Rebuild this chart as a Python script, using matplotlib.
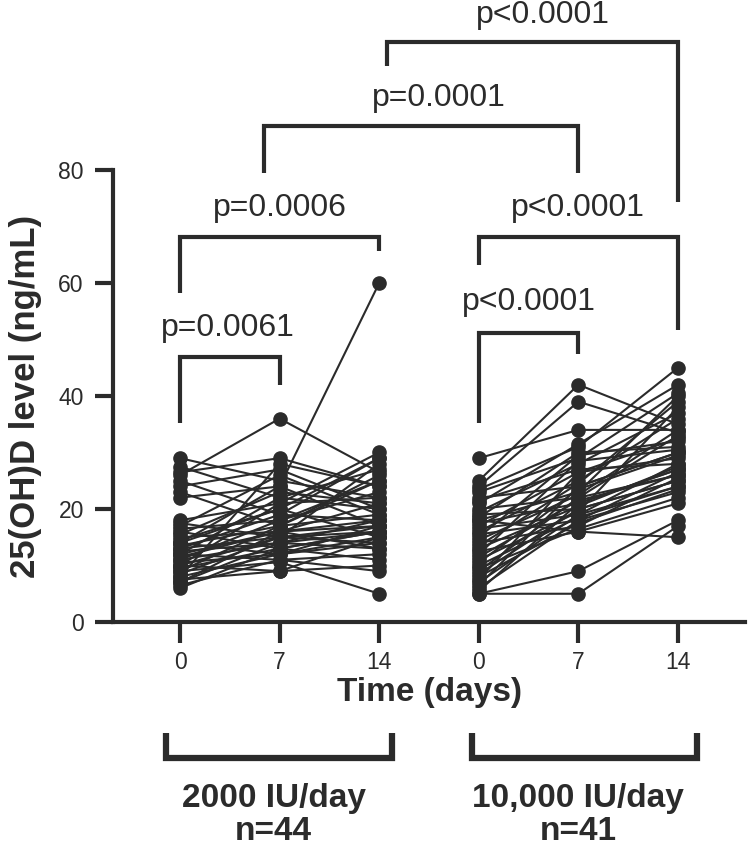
import matplotlib
matplotlib.use("Agg")
import matplotlib.pyplot as plt

plt.rcParams['font.family'] = ['Liberation Sans', 'DejaVu Sans']

INK = '#2b2b2b'

# time points (days) and group labels
days = [0, 7, 14]
groups = ['2000 IU/day', '10,000 IU/day']
group_n = ['n=44', 'n=41']

# 2000 IU/day, one entry per subject (ng/mL)
g1_day0 = [29, 27.5, 26.5, 26, 25, 24, 23, 22, 18, 17.5, 17, 16.5, 16, 15.5, 15,
           14.5, 14, 14, 13.5, 13, 13, 12.5, 12, 12, 11.5, 11, 11, 10.5, 10, 10,
           9.5, 9, 9, 8.5, 8, 8, 7.5, 7, 7, 6.5, 6, 14, 12, 10]
g1_day7 = [25, 22, 29, 36, 19, 27, 17, 24, 21, 15, 26, 18, 13, 23, 16,
           20, 24, 12, 17, 15, 19, 14, 22, 11, 16, 18, 14, 12, 21, 15,
           13, 17, 10.6, 15, 28, 12, 9, 14, 16, 11, 13, 20, 16, 9]
g1_day14 = [22, 27, 24, 26.5, 29, 20, 25, 17, 30, 28, 19, 23, 16, 21, 18,
            15, 60, 17, 26, 14, 18, 16, 20, 12, 17, 25, 13, 15, 22, 16,
            11, 19, 5, 17, 24, 14, 10, 18, 13, 9, 16, 29, 21, 15]

# 10,000 IU/day, one entry per subject (ng/mL)
g2_day0 = [29, 25, 24, 23.5, 23, 22, 21.5, 21, 20, 19.5, 19, 18.5, 18, 17.5,
           17, 16.5, 16, 15.5, 15, 14.5, 14, 13.5, 13, 12.5, 12, 11.5, 11,
           10.5, 10, 9.5, 9, 8.5, 8, 7.5, 7, 6.5, 6, 5.5, 5, 5, 18]
g2_day7 = [34, 42, 39, 31, 29, 24, 27, 31.5, 22, 28, 20, 30, 23, 21,
           26.5, 19, 25, 18, 29.5, 22.5, 17, 24.5, 20.5, 16, 28.5, 21.5, 19.5,
           23.5, 18.5, 16.5, 22, 20, 17.5, 26.5, 19, 24, 18, 21, 9, 5, 16]
g2_day14 = [34, 35, 33.5, 45, 40.5, 30, 28, 42, 26, 37, 25, 31, 40, 27,
            29, 24, 36, 23, 32, 34, 25.5, 39, 27.5, 21, 30.5, 26, 38,
            29.5, 24, 22, 33, 25, 23.5, 32.5, 28, 30, 26.5, 27, 18, 17, 15]

# significance brackets: x0, x1, top, left leg end, right leg end, label, label x, label y
brackets = [
    (0, 1, 46.9, 35.2, 41.9, 'p=0.0061', 0.48, 52.0),
    (0, 2, 68.1, 58.2, 65.7, 'p=0.0006', 1.0, 73.3),
    (0.84, 4, 87.8, 79.5, 79.5, 'p=0.0001', 2.6, 92.7),
    (2.08, 5, 102.7, 98.4, 74.3, 'p<0.0001', 3.64, 107.4),
    (3, 5, 68.1, 63.2, 51.7, 'p<0.0001', 4.0, 73.3),
    (3, 4, 51.2, 35.2, 47.4, 'p<0.0001', 3.5, 56.6),
]

fig = plt.figure(figsize=(7.48, 8.47), dpi=100)
ax = fig.add_axes([113 / 748, 1 - 622 / 847, 632 / 748, 452 / 847])

pos1 = [0, 1, 2]
pos2 = [3, 4, 5]
for vals in zip(g1_day0, g1_day7, g1_day14):
    ax.plot(pos1, vals, '-o', color=INK, lw=1.5, ms=9.5, clip_on=False, zorder=3)
for vals in zip(g2_day0, g2_day7, g2_day14):
    ax.plot(pos2, vals, '-o', color=INK, lw=1.5, ms=9.5, clip_on=False, zorder=3)

ax.set_xlim(-0.673, 5.673)
ax.set_ylim(0, 80)
ax.set_yticks([0, 20, 40, 60, 80])
ax.set_xticks(pos1 + pos2)
ax.set_xticklabels([str(d) for d in days] * 2)

for side in ['top', 'right']:
    ax.spines[side].set_visible(False)
for side in ['left', 'bottom']:
    ax.spines[side].set_linewidth(3)
    ax.spines[side].set_color(INK)
ax.tick_params(axis='both', colors=INK, width=3, labelsize=16.5)
ax.tick_params(axis='y', length=13, pad=8)
ax.tick_params(axis='x', length=15, pad=6)

ax.set_xlabel('Time (days)', fontsize=24, fontweight='bold', color=INK, va='center')
ax.xaxis.set_label_coords(0.5, -0.157)
ax.set_ylabel('25(OH)D level (ng/mL)', fontsize=25, fontweight='bold', color=INK, va='center')
ax.yaxis.set_label_coords(-0.139, 0.5)

for x0, x1, top, yl, yr, label, tx, ty in brackets:
    ax.plot([x0, x0, x1, x1], [yl, top, top, yr], color=INK, lw=3,
            clip_on=False, solid_capstyle='butt', solid_joinstyle='miter')
    ax.text(tx, ty, label, ha='center', va='center', fontsize=23, color=INK)

# group brackets under the axis
for (x0, x1), name, n, cx in zip([(-0.14, 2.13), (2.93, 5.19)], groups, group_n, [0.94, 4.0]):
    ax.plot([x0, x0, x1, x1], [-19.6, -24.1, -24.1, -19.6], color=INK, lw=4.5,
            clip_on=False, solid_capstyle='butt', solid_joinstyle='miter')
    ax.text(cx, -31.2, name, ha='center', va='center', fontsize=24,
            fontweight='bold', color=INK)
    ax.text(cx, -37.0, n, ha='center', va='center', fontsize=24,
            fontweight='bold', color=INK)

fig.savefig('out.png', dpi=100)
